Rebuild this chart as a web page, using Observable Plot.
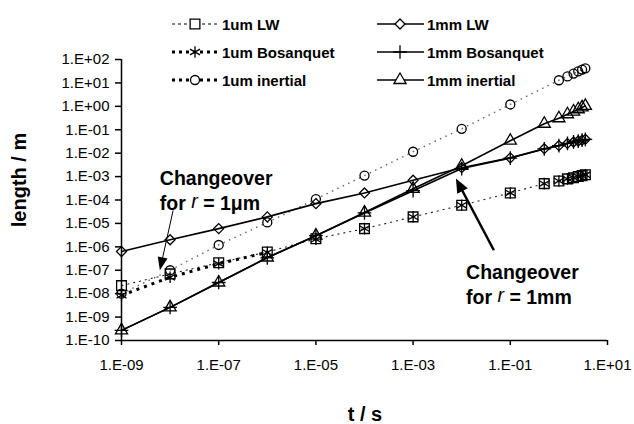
<!DOCTYPE html>
<html><head><meta charset="utf-8">
<script src="https://cdn.jsdelivr.net/npm/d3@7"></script>
<script src="https://cdn.jsdelivr.net/npm/@observablehq/plot@0.6"></script>
<style>
body{margin:0;background:#fff;}
#chart{width:634px;height:424px;}
</style></head><body><div id="chart"></div>
<script>
// ---- data ----
const times = [1e-9, 1e-8, 1e-7, 1e-6, 1e-5, 1e-4, 1e-3, 1e-2, 1e-1, 0.5, 1, 1.5, 2, 2.5, 3, 3.5];
const timesUmInertial = [1e-9, 1e-8, 1e-7, 1e-6, 1e-5, 1e-4, 1e-3, 1e-2, 1e-1, 1, 1.5, 2, 2.5, 3, 3.5];

const umLW        = [2.2e-8, 7e-8, 2.1e-7, 6e-7, 2.2e-6, 6e-6, 1.9e-5, 6e-5, 2e-4, 5e-4, 6.5e-4, 8e-4, 9e-4, 1e-3, 1.1e-3, 1.2e-3];
const umBosanquet = [8.5e-9, 5e-8, 1.9e-7, 5.8e-7, 2.1e-6, 6e-6, 1.9e-5, 6e-5, 2e-4, 5e-4, 6.5e-4, 8e-4, 9e-4, 1e-3, 1.1e-3, 1.2e-3];
const umInertial  = [1e-8, 1e-7, 1.2e-6, 1.1e-5, 1.1e-4, 1.1e-3, 0.0115, 0.11, 1.2, 13, 19, 25, 31, 37, 42];
const mmLW        = [6.3e-7, 2e-6, 6e-6, 1.9e-5, 7e-5, 2e-4, 7e-4, 2.4e-3, 6.3e-3, 0.0155, 0.021, 0.026, 0.03, 0.033, 0.036, 0.039];
const mmBosanquet = [2.7e-10, 2.6e-9, 3e-8, 3.4e-7, 3e-6, 2.8e-5, 2.5e-4, 2.2e-3, 6.2e-3, 0.0152, 0.021, 0.026, 0.03, 0.033, 0.036, 0.039];
const mmInertial  = [2.7e-10, 2.6e-9, 3e-8, 3.5e-7, 3e-6, 2.9e-5, 3e-4, 2.9e-3, 0.034, 0.18, 0.31, 0.46, 0.6, 0.75, 0.9, 1.05];

const seriesNames = ["1um LW", "1um Bosanquet", "1um inertial", "1mm LW", "1mm Bosanquet", "1mm inertial"];
const seriesTimes = [times, times, timesUmInertial, times, times, times];
const seriesValues = [umLW, umBosanquet, umInertial, mmLW, mmBosanquet, mmInertial];

const xTicks = [1e-9, 1e-7, 1e-5, 1e-3, 1e-1, 1e1];
const yTicks = [1e-10, 1e-9, 1e-8, 1e-7, 1e-6, 1e-5, 1e-4, 1e-3, 1e-2, 1e-1, 1, 1e1, 1e2];

const xTitle = "t / s";
const yTitle = "length / m";

// annotations (data coordinates)
const noteTexts = [["Changeover", "for ", "r", " = 1\u03bcm"], ["Changeover", "for ", "r", " = 1mm"]];
const noteAt = [[6.3e-9, 7.8e-4], [0.0126, 7e-8]];
const arrowFrom = [[1.18e-8, 3.4e-5], [0.047, 6.8e-7]];
const arrowTo = [[6.3e-9, 9.6e-8], [7.8e-3, 7.8e-4]];

// ---- styles ----
const styles = {
  "1um LW":        {symbol: "square",   r: 5.5, sw: 1.1, dash: "2,4",   color: "#222", legendDash: "3,3", legendW: 1, lineUntil: Infinity},
  "1um Bosanquet": {symbol: "asterisk", r: 5.5, sw: 3,   dash: "3,5",   color: "#000", legendDash: "3,4", legendW: 3, lineUntil: 1e-6},
  "1um inertial":  {symbol: "circle",   r: 4.5, sw: 1.4, dash: "1.5,4.5", color: "#666", legendDash: "3,4", legendW: 3, lineUntil: Infinity},
  "1mm LW":        {symbol: "diamond2", r: 4.5, sw: 1.6, dash: null,    color: "#000", legendDash: null, legendW: 1.6, lineUntil: Infinity},
  "1mm Bosanquet": {symbol: "plus",     r: 4.5, sw: 1.6, dash: null,    color: "#000", legendDash: null, legendW: 1.6, lineUntil: Infinity},
  "1mm inertial":  {symbol: "triangle", r: 4.5, sw: 1.6, dash: null,    color: "#000", legendDash: null, legendW: 1.6, lineUntil: Infinity}
};

const rows = seriesNames.flatMap((name, k) => seriesTimes[k].map((t, i) => ({name, t, v: seriesValues[k][i]})));

const fmt = v => {
  const e = Math.round(Math.log10(v));
  return "1.E" + (e < 0 ? "-" : "+") + String(Math.abs(e)).padStart(2, "0");
};

const FONT = "'Liberation Sans', Arial, Helvetica, sans-serif";

const lineMarks = seriesNames.map(name => {
  const s = styles[name];
  return Plot.line(rows.filter(d => d.name === name && d.t <= s.lineUntil), {
    x: "t", y: "v", stroke: s.color, strokeWidth: s.sw,
    strokeDasharray: s.dash || undefined, strokeLinecap: "butt"
  });
});
const dotMarks = seriesNames.map(name => {
  const s = styles[name];
  return Plot.dot(rows.filter(d => d.name === name), {
    x: "t", y: "v", symbol: () => s.symbol, r: s.r, stroke: "black", fill: "none", strokeWidth: 1.3
  });
});

const svg = Plot.plot({
  width: 634, height: 424,
  marginLeft: 121, marginRight: 27, marginTop: 59, marginBottom: 84,
  style: {fontFamily: FONT, fontSize: "15px", color: "black", background: "white"},
  x: {type: "log", domain: [1e-9, 10]},
  y: {type: "log", domain: [1e-10, 100]},
  symbol: {type: "identity"},
  marks: [
    Plot.axisX({ticks: xTicks, tickFormat: fmt, tickSize: 5, tickPadding: 14, fontSize: 15, label: null, strokeWidth: 1.5}),
    Plot.axisY({ticks: yTicks, tickFormat: fmt, tickSize: 6, tickPadding: 6, fontSize: 15, label: null, strokeWidth: 1.5}),
    Plot.ruleX([1e-9], {stroke: "black", strokeWidth: 1.5}),
    Plot.ruleY([1e-10], {stroke: "black", strokeWidth: 1.5}),
    ...lineMarks,
    ...dotMarks
  ]
});
document.getElementById("chart").appendChild(svg);

const sx = svg.scale("x"), sy = svg.scale("y");
const root = d3.select(svg);

// axis titles
root.append("text").attr("x", 365).attr("y", 421).attr("text-anchor", "middle")
  .attr("font-family", FONT).attr("font-weight", "bold").attr("font-size", 20).text(xTitle);
root.append("text").attr("transform", "translate(26,180) rotate(-90)").attr("text-anchor", "middle")
  .attr("font-family", FONT).attr("font-weight", "bold").attr("font-size", 20).text(yTitle);

// legend
const legendCols = [172, 377];
const legendRows = [24, 52, 80];
const symMap = {square: d3.symbolSquare, asterisk: d3.symbolAsterisk, circle: d3.symbolCircle,
  diamond2: d3.symbolDiamond2, plus: d3.symbolPlus, triangle: d3.symbolTriangle};
seriesNames.forEach((name, k) => {
  const s = styles[name];
  const x0 = legendCols[Math.floor(k / 3)], y0 = legendRows[k % 3];
  const g = root.append("g");
  g.append("line").attr("x1", x0).attr("x2", x0 + 47).attr("y1", y0).attr("y2", y0)
    .attr("stroke", "black").attr("stroke-width", s.legendW)
    .attr("stroke-dasharray", s.legendDash);
  g.append("path").attr("transform", `translate(${x0 + 23},${y0})`)
    .attr("d", d3.symbol(symMap[s.symbol], s.r * s.r * Math.PI)())
    .attr("fill", "white").attr("stroke", "black").attr("stroke-width", 1.3);
  g.append("text").attr("x", x0 + 50).attr("y", y0 + 6).attr("text-anchor", "start")
    .attr("font-family", FONT).attr("font-weight", "bold").attr("font-size", 15).text(name);
});

// annotations
noteTexts.forEach((parts, k) => {
  const x = sx.apply(noteAt[k][0]), y = sy.apply(noteAt[k][1]);
  root.append("text").attr("x", x).attr("y", y + 6).attr("text-anchor", "start")
    .attr("font-family", FONT).attr("font-weight", "bold").attr("font-size", 19.5).text(parts[0]);
  const t2 = root.append("text").attr("x", x).attr("y", y + 31).attr("text-anchor", "start")
    .attr("font-family", FONT).attr("font-weight", "bold").attr("font-size", 19.5);
  t2.append("tspan").text(parts[1]);
  t2.append("tspan").attr("font-style", "italic").attr("font-weight", "normal").attr("dy", -2).text(parts[2]);
  t2.append("tspan").attr("dy", 2).text(parts[3]);
});
const arrowW = [1, 2.5], headL = [13, 14], headW = [5, 6];
arrowFrom.forEach((a, k) => {
  const x1 = sx.apply(a[0]), y1 = sy.apply(a[1]);
  const x2 = sx.apply(arrowTo[k][0]), y2 = sy.apply(arrowTo[k][1]);
  const dx = x2 - x1, dy = y2 - y1, len = Math.hypot(dx, dy);
  const ux = dx / len, uy = dy / len;
  const bx = x2 - ux * headL[k], by = y2 - uy * headL[k];
  root.append("line").attr("x1", x1).attr("y1", y1).attr("x2", bx + ux * 2).attr("y2", by + uy * 2)
    .attr("stroke", "black").attr("stroke-width", arrowW[k]);
  root.append("polygon")
    .attr("points", [[x2, y2], [bx - uy * headW[k], by + ux * headW[k]], [bx + uy * headW[k], by - ux * headW[k]]].map(p => p.join(",")).join(" "))
    .attr("fill", "black");
});
</script></body></html>
